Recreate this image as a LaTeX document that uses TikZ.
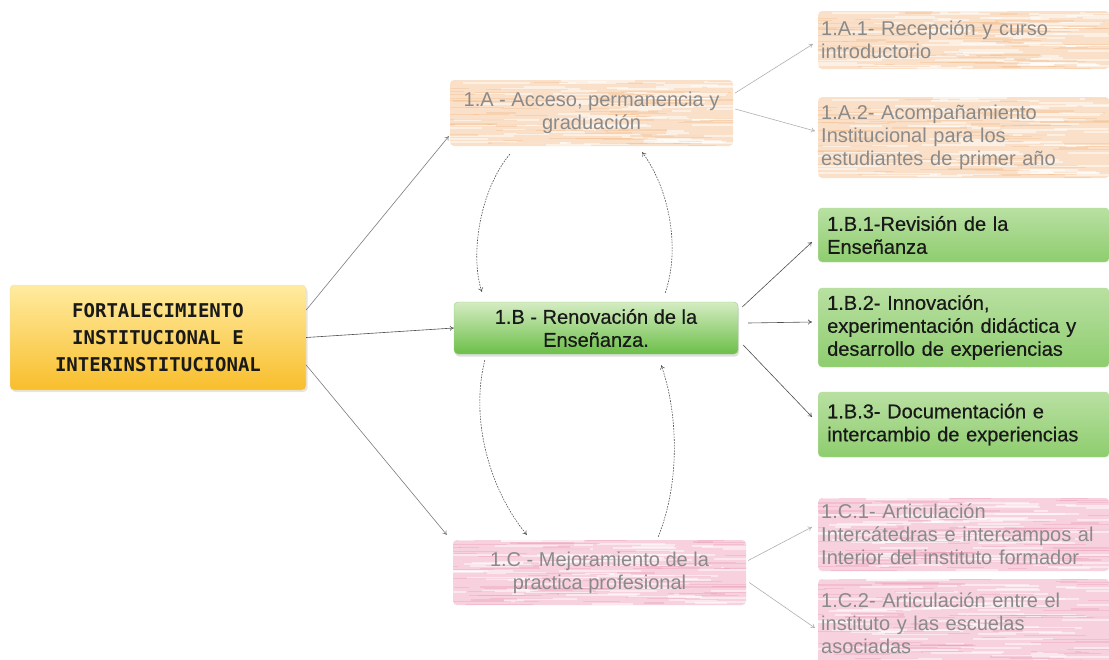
\documentclass[tikz,border=0pt]{standalone}
\usepackage{fontspec}
\setmainfont{Liberation Sans}
\newfontfamily\monofnt{DejaVu Sans Mono}
\usetikzlibrary{arrows.meta,calc,shadows}
\definecolor{yelT}{HTML}{FFEBA0}
\definecolor{yelB}{HTML}{F8BE2C}
\definecolor{grnT}{HTML}{D4ECC2}
\definecolor{grnB}{HTML}{6CBF48}
\definecolor{gr2T}{HTML}{B9E0A2}
\definecolor{gr2B}{HTML}{8ECD6E}
\definecolor{orgF}{HTML}{FAE0C8}
\definecolor{orgS}{HTML}{F2B27C}
\definecolor{pnkF}{HTML}{F7D2DE}
\definecolor{pnkS}{HTML}{E890AE}
\definecolor{arr}{HTML}{505050}
\definecolor{fadetxt}{HTML}{8A8A8A}
\newcommand\mystreaks[2]{%
  \pgfmathsetseed{#2}%
  \foreach \i in {1,...,80}{%
    \pgfmathsetmacro\rx{rnd}\pgfmathsetmacro\ry{rnd}\pgfmathsetmacro\rl{15+70*rnd}%
    \draw[#1] let \p1=(path picture bounding box.south west), \p2=(path picture bounding box.north east) in
      ({\x1+\rx*(\x2-\x1)-20pt},{\y1+\ry*(\y2-\y1)}) -- ++(\rl pt,0);
  }%
}
\tikzset{
  base/.style={rounded corners=4pt, inner sep=0pt, font=\fontsize{20}{23}\selectfont},
  mainbox/.style={base, top color=yelT, bottom color=yelB, draw=yelB!80!black!30,
     font=\monofnt\bfseries\fontsize{19}{27}\selectfont, align=center, text=black!90,
     drop shadow={opacity=0.2, shadow xshift=1.5pt, shadow yshift=-2pt}},
  greenmid/.style={base, top color=grnT, bottom color=grnB, draw=grnB!70, align=center, text=black!90,
     font=\fontsize{20}{23}\selectfont\addfontfeatures{FakeBold=0.5},
     drop shadow={opacity=0.25, shadow xshift=1pt, shadow yshift=-2.5pt}},
  greenright/.style={base, top color=gr2T, bottom color=gr2B, draw=gr2B!70, align=left,
     font=\fontsize{20}{23}\selectfont\addfontfeatures{FakeBold=0.5},
     text width=273pt, inner xsep=9pt, text=black!90, anchor=west},
  orangebox/.style={base, fill=orgF, text=fadetxt,
     path picture={\mystreaks{white, opacity=0.5, line width=2pt}{3}\mystreaks{orgS, opacity=0.3, line width=1.2pt}{11}}},
  pinkbox/.style={base, fill=pnkF, text=fadetxt,
     path picture={\mystreaks{white, opacity=0.5, line width=2pt}{5}\mystreaks{pnkS, opacity=0.3, line width=1.2pt}{13}}},
  fadedright/.style={align=left, text width=285pt, inner xsep=3pt, anchor=west},
  conn/.style={draw=arr, line width=0.6pt, -{To[length=4pt,width=5pt]}},
  fconn/.style={draw=arr!45, line width=0.6pt, -{To[length=4pt,width=5pt]}},
  dconn/.style={draw=arr, line width=0.6pt, dash pattern=on 1.6pt off 1.2pt, -{To[length=4pt,width=5pt]}},
}
\begin{document}
\begin{tikzpicture}[x=1pt,y=-1pt]
\useasboundingbox[fill=white] (0,0) rectangle (1109,659);
% central column
\node[mainbox, minimum width=296pt, minimum height=105pt] (M) at (158,337.5)
  {FORTALECIMIENTO\\INSTITUCIONAL E\\INTERINSTITUCIONAL};
\node[orangebox, align=center, minimum width=283pt, minimum height=66pt] (A) at (591.5,113)
  {1.A - Acceso, permanencia y\\graduación};
\node[greenmid, minimum width=284pt, minimum height=52pt] (B) at (596,328)
  {1.B - Renovación de la\\Enseñanza.};
\node[pinkbox, align=center, minimum width=293pt, minimum height=65pt] (C) at (599.5,572.5)
  {1.C - Mejoramiento de la\\practica profesional};
% right column
\node[orangebox, fadedright, minimum height=58pt] (A1) at (818,40)
  {1.A.1- Recepción y curso\\introductorio};
\node[orangebox, fadedright, minimum height=81pt] (A2) at (818,137.5)
  {1.A.2- Acompañamiento\\Institucional para los\\estudiantes de primer año};
\node[greenright, minimum height=54pt] (B1) at (818,235)
  {1.B.1-Revisión de la\\Enseñanza};
\node[greenright, minimum height=79pt] (B2) at (818,327.5)
  {1.B.2- Innovación,\\experimentación didáctica y\\desarrollo de experiencias};
\node[greenright, minimum height=65pt] (B3) at (818,424.5)
  {1.B.3- Documentación e\\intercambio de experiencias};
\node[pinkbox, fadedright, minimum height=73pt] (C1) at (818,534.5)
  {1.C.1- Articulación\\Intercátedras e intercampos al\\Interior del instituto formador};
\node[pinkbox, fadedright, minimum height=88pt] (C2) at (818,623)
  {1.C.2- Articulación entre el\\instituto y las escuelas\\asociadas};
% connectors from main
\draw[conn, draw=arr!75] ([yshift=27.5pt]M.east) -- ([xshift=-1pt,yshift=10pt]A.south west);
\draw[conn] (M.east) -- (B.west);
\draw[conn, draw=arr!75] ([yshift=-27.5pt]M.east) -- ([xshift=-6pt,yshift=5pt]C.north west);
% A children
\draw[fconn] ([xshift=2pt,yshift=20pt]A.east) -- ([xshift=-5pt,yshift=-4pt]A1.west);
\draw[fconn] ([xshift=2pt,yshift=4pt]A.east) -- ([xshift=-3pt,yshift=6.5pt]A2.west);
% B children
\draw[conn] ([xshift=4pt,yshift=21pt]B.east) -- ([xshift=-6pt,yshift=-7pt]B1.west);
\draw[conn] ([xshift=10pt,yshift=5pt]B.east) -- ([xshift=-6pt,yshift=5.5pt]B2.west);
\draw[conn] ([xshift=5pt,yshift=-17pt]B.east) -- ([xshift=-6pt,yshift=7.5pt]B3.west);
% C children
\draw[fconn] ([xshift=2pt,yshift=12pt]C.east) -- ([xshift=-6pt,yshift=7.5pt]C1.west);
\draw[fconn] ([xshift=3pt,yshift=-10pt]C.east) -- ([xshift=-3pt,yshift=-5pt]C2.west);
% dashed loops
\draw[dconn] ([xshift=60pt,yshift=-8pt]A.south west) .. controls +(-30,36) and +(-12,-37) .. ([xshift=28pt,yshift=10pt]B.north west);
\draw[dconn] ([xshift=-73pt,yshift=9pt]B.north east) .. controls +(15,-43) and +(28,38) .. ([xshift=-91pt,yshift=-6pt]A.south east);
\draw[dconn] ([xshift=31pt,yshift=-6pt]B.south west) .. controls +(-15,60) and +(-37,-45) .. ([xshift=74pt,yshift=5pt]C.north west);
\draw[dconn] ([xshift=-88pt,yshift=3pt]C.north east) .. controls +(23,-57) and +(16,45) .. ([xshift=-77pt,yshift=-11pt]B.south east);
\end{tikzpicture}
\end{document}
